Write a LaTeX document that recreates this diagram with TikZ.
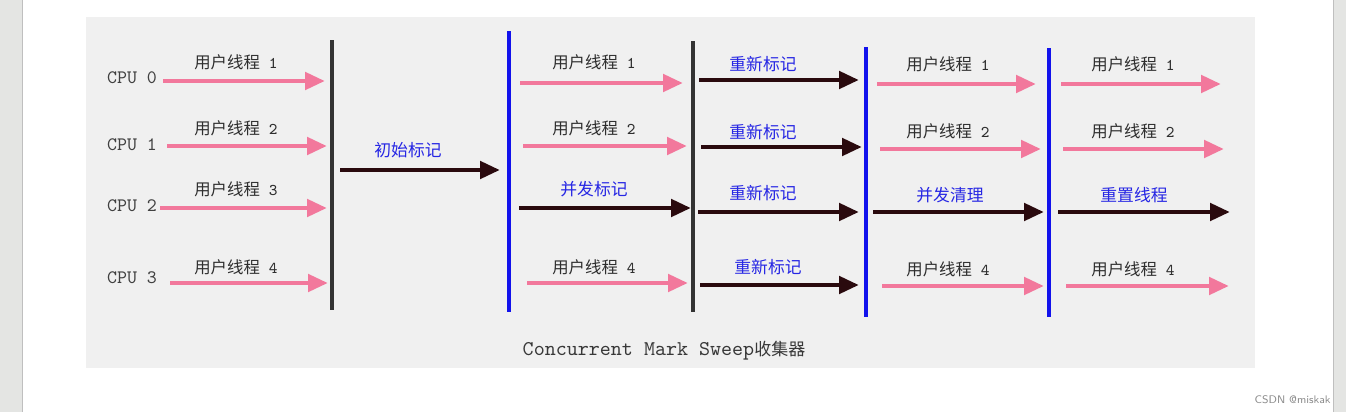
\documentclass[tikz,border=0pt]{standalone}
\usepackage{fontspec}
\newfontfamily\cjk{Noto Sans CJK SC}
\usetikzlibrary{arrows.meta}

\definecolor{userpink}{RGB}{242,120,156}
\definecolor{gcdark}{RGB}{42,10,14}
\definecolor{barblue}{RGB}{18,18,236}
\definecolor{labelblue}{RGB}{38,38,228}
\definecolor{panelgray}{RGB}{240,240,240}
\definecolor{sidegray}{RGB}{228,229,227}

\newcommand\uthread[1]{用户线程\hspace{4.5pt}{\ttfamily #1}}

\tikzset{
  user/.style={line width=2.4pt,userpink,-{Triangle[length=10pt,width=8.5pt]}},
  gc/.style={line width=2.4pt,gcdark,-{Triangle[length=10pt,width=8.5pt]}},
  ulabel/.style={font=\cjk\fontsize{8.2}{9}\selectfont,text=black!82,inner sep=0pt},
  glabel/.style={font=\cjk\fontsize{8.4}{9}\selectfont,text=labelblue,inner sep=0pt},
  cpu/.style={font=\ttfamily\fontsize{9.5}{10}\selectfont,text=black!75,inner sep=0pt},
  stopbar/.style={line width=1.8pt,black!80},
  markbar/.style={line width=1.8pt,barblue}
}

\begin{document}
\begin{tikzpicture}[x=0.5pt,y=-0.5pt]
\useasboundingbox (0,0) rectangle (1346,412);
\fill[white] (0,0) rectangle (1346,412);
\fill[sidegray] (0,0) rectangle (22,412);
\draw[black!25] (22.5,0) -- (22.5,412);
\fill[sidegray] (1334,0) rectangle (1346,412);
\draw[black!25] (1333.5,0) -- (1333.5,412);
\fill[panelgray] (86,17) rectangle (1255,368);

\node[cpu] (cpu0) at (132,78) {CPU 0};
\node[cpu] (cpu1) at (132,145) {CPU 1};
\node[cpu] (cpu2) at (132,206) {CPU 2};
\node[cpu] (cpu3) at (132,278) {CPU 3};

\draw[stopbar] (332,40) -- (332,310);
\draw[markbar] (509,31) -- (509,312);
\draw[stopbar] (693,41) -- (693,312);
\draw[markbar] (866,47) -- (866,317);
\draw[markbar] (1049,48) -- (1049,317);

\node[ulabel] (u01) at (236,62) {\uthread{1}};
\node[ulabel] (u11) at (236,128) {\uthread{2}};
\node[ulabel] (u21) at (236,189) {\uthread{3}};
\node[ulabel] (u31) at (236,267) {\uthread{4}};
\coordinate (s01) at (163,81); \coordinate (e01) at (325,81);
\coordinate (s11) at (167,146); \coordinate (e11) at (327,146);
\coordinate (s21) at (160,208); \coordinate (e21) at (327,208);
\coordinate (s31) at (170,283); \coordinate (e31) at (328,283);
\draw[user] (s01) -- (e01);
\draw[user] (s11) -- (e11);
\draw[user] (s21) -- (e21);
\draw[user] (s31) -- (e31);

\node[glabel] (init) at (408,150) {初始标记};
\coordinate (sinit) at (340,170); \coordinate (einit) at (500,170);
\draw[gc] (sinit) -- (einit);

\node[ulabel] (u02) at (594,62) {\uthread{1}};
\node[ulabel] (u12) at (594,128) {\uthread{2}};
\node[glabel] (conc) at (594,189) {并发标记};
\node[ulabel] (u32) at (594,267) {\uthread{4}};
\coordinate (s02) at (520,83); \coordinate (e02) at (683,83);
\coordinate (s12) at (523,146); \coordinate (e12) at (687,146);
\coordinate (s22) at (519,208); \coordinate (e22) at (691,208);
\coordinate (s32) at (527,283); \coordinate (e32) at (688,283);
\draw[user] (s02) -- (e02);
\draw[user] (s12) -- (e12);
\draw[gc] (s22) -- (e22);
\draw[user] (s32) -- (e32);

\node[glabel] (re0) at (763,64) {重新标记};
\node[glabel] (re1) at (763,132) {重新标记};
\node[glabel] (re2) at (763,193) {重新标记};
\node[glabel] (re3) at (768,267) {重新标记};
\coordinate (s03) at (699,80); \coordinate (e03) at (859,80);
\coordinate (s13) at (701,147); \coordinate (e13) at (862,147);
\coordinate (s23) at (698,212); \coordinate (e23) at (859,212);
\coordinate (s33) at (700,285); \coordinate (e33) at (859,285);
\draw[gc] (s03) -- (e03);
\draw[gc] (s13) -- (e13);
\draw[gc] (s23) -- (e23);
\draw[gc] (s33) -- (e33);

\node[ulabel] (u04) at (948,64) {\uthread{1}};
\node[ulabel] (u14) at (948,131) {\uthread{2}};
\node[glabel] (sweep) at (950,195) {并发清理};
\node[ulabel] (u34) at (948,269) {\uthread{4}};
\coordinate (s04) at (877,84); \coordinate (e04) at (1036,84);
\coordinate (s14) at (880,149); \coordinate (e14) at (1041,149);
\coordinate (s24) at (873,212); \coordinate (e24) at (1044,212);
\coordinate (s34) at (882,286); \coordinate (e34) at (1044,286);
\draw[user] (s04) -- (e04);
\draw[user] (s14) -- (e14);
\draw[gc] (s24) -- (e24);
\draw[user] (s34) -- (e34);

\node[ulabel] (u05) at (1133,64) {\uthread{1}};
\node[ulabel] (u15) at (1133,131) {\uthread{2}};
\node[glabel] (reset) at (1134,195) {重置线程};
\node[ulabel] (u35) at (1133,269) {\uthread{4}};
\coordinate (s05) at (1061,84); \coordinate (e05) at (1221,84);
\coordinate (s15) at (1063,149); \coordinate (e15) at (1224,149);
\coordinate (s25) at (1058,212); \coordinate (e25) at (1230,212);
\coordinate (s35) at (1066,286); \coordinate (e35) at (1229,286);
\draw[user] (s05) -- (e05);
\draw[user] (s15) -- (e15);
\draw[gc] (s25) -- (e25);
\draw[user] (s35) -- (e35);

\node[inner sep=0pt,text=black!78,font=\fontsize{10.5}{11}\selectfont] (caption) at (664,351) {\ttfamily Concurrent Mark Sweep\cjk\fontsize{8.5}{9}\selectfont 收集器};
\node[inner sep=0pt,text=black!45,font=\sffamily\fontsize{5.5}{6}\selectfont,anchor=east] (mark) at (1331,400) {CSDN @miskak};
\end{tikzpicture}
\end{document}
